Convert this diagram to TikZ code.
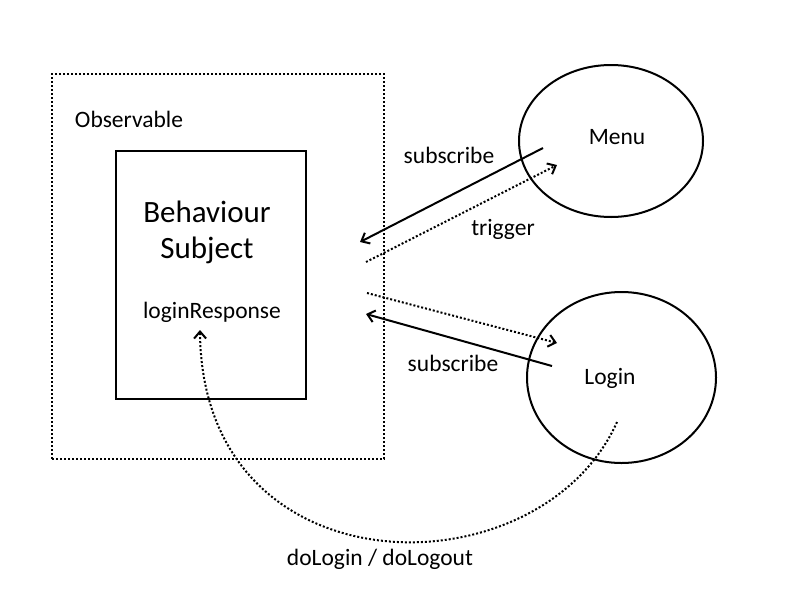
\documentclass[tikz,border=0pt]{standalone}
\usepackage{fontspec}
\setmainfont{Carlito}
\usetikzlibrary{arrows.meta, shapes.geometric}
\tikzset{
  lbl/.style={font=\fontsize{23.5}{28}\selectfont, inner sep=0pt},
  big/.style={font=\fontsize{31}{36}\selectfont, inner sep=0pt, align=center},
  actor/.style={draw, ellipse, line width=2pt, inner sep=0pt},
  sub/.style={-{Straight Barb[length=7pt,width=12pt]}, line width=2pt},
  trig/.style={-{Straight Barb[length=7pt,width=12pt]}, line width=2pt, dotted}
}
\begin{document}
\begin{tikzpicture}[x=1pt, y=-1pt]
    \useasboundingbox (0,0) rectangle (800,600);
    % boxes
    \node[draw, dotted, line width=2pt, minimum width=332pt, minimum height=385pt] (obs) at (218,266.5) {};
    \node[draw, line width=2pt, minimum width=190pt, minimum height=248pt] (subj) at (211,275) {};
    \node[lbl] (obslbl) at (129,119) {Observable};
    \node[big] (subjlbl) at (207,232) {Behaviour\\Subject};
    \node[lbl] (resp) at (212,312) {loginResponse};
    % actors
    \node[actor, minimum width=184pt, minimum height=152pt] (menu) at (611,141) {};
    \node[lbl] at (617,137) {Menu};
    \node[actor, minimum width=189pt, minimum height=171pt] (login) at (621.5,377.5) {};
    \node[lbl] at (610,378) {Login};
    % connector ends
    \coordinate (ms) at (543,148);
    \coordinate (me) at (360,242);
    \coordinate (ts) at (366,262);
    \coordinate (te) at (557,165);
    \coordinate (ls) at (367,293);
    \coordinate (le) at (557,343);
    \coordinate (ks) at (552,366);
    \coordinate (ke) at (366,314);
    \coordinate (cs) at (617,422);
    \coordinate (ce) at (200,330);
    \draw[sub] (ms) -- (me);
    \draw[trig] (ts) -- (te);
    \draw[trig] (ls) -- (le);
    \draw[sub] (ks) -- (ke);
    \draw[trig] (cs) .. controls (540,595) and (202,595) .. (ce);
    % labels
    \node[lbl] at (449,155) {subscribe};
    \node[lbl] at (503,229) {trigger};
    \node[lbl] at (453,363) {subscribe};
    \node[lbl] at (380,559) {doLogin / doLogout};
\end{tikzpicture}
\end{document}
